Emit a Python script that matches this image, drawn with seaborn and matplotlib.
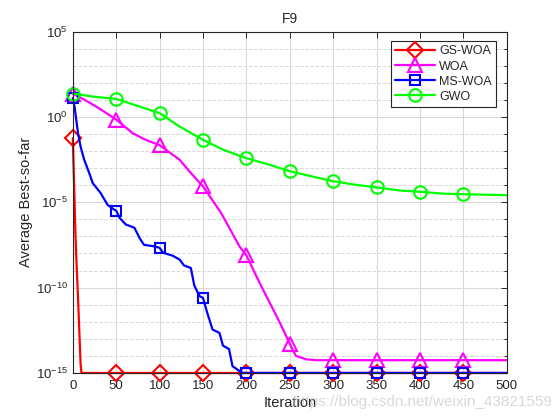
import numpy as np
import pandas as pd
import seaborn as sns
import matplotlib
matplotlib.use("Agg")
import matplotlib.pyplot as plt
from matplotlib.lines import Line2D
from matplotlib.ticker import FixedLocator, NullFormatter

# ---------------- data ----------------
title = "F9"
xlabel = "Iteration"
ylabel = "Average Best-so-far"
series_names = ["GS-WOA", "WOA", "MS-WOA", "GWO"]

gs_iter = [0, 1, 2, 3, 4, 5, 6, 7, 8, 9, 10, 50, 100, 150, 200, 250, 300, 350, 400, 450, 500]
gs_val = [5.6e-2, 8e-4, 1.3e-5, 1.6e-7, 6.3e-9, 4e-10, 2.5e-11, 1.3e-12, 6.3e-14, 3.2e-15, 1e-15,
          1e-15, 1e-15, 1e-15, 1e-15, 1e-15, 1e-15, 1e-15, 1e-15, 1e-15, 1e-15]

woa_iter = [0, 10, 27, 50, 69, 84, 100, 123, 136, 150, 171, 192, 200, 215, 238, 246, 250, 257,
            269, 280, 300, 350, 400, 450, 500]
woa_val = [22, 12.6, 4.0, 0.7, 0.11, 4.5e-2, 2.2e-2, 3.1e-3, 5.1e-4, 8.5e-5, 2.3e-6, 2.6e-8,
           7.6e-9, 2e-10, 1e-12, 1.4e-13, 5e-14, 1e-14, 6.3e-15, 5.6e-15, 5.6e-15, 5.6e-15,
           5.6e-15, 5.6e-15, 5.6e-15]

ms_iter = [0, 2, 4, 6, 9, 13, 19, 23, 32, 40, 48, 50, 54, 61, 71, 77, 82, 96, 100, 104, 115,
           123, 128, 136, 140, 146, 150, 155, 161, 169, 173, 180, 184, 192, 196, 200, 250, 300,
           350, 400, 450, 500]
ms_val = [12.6, 4.0, 0.66, 0.11, 1.8e-2, 3.2e-3, 5e-4, 1.3e-4, 3.5e-5, 7.1e-6, 3.6e-6, 3.2e-6,
          1.2e-6, 5e-7, 3.2e-7, 7.9e-8, 3.2e-8, 2.5e-8, 2.1e-8, 1.1e-8, 7.4e-9, 4.4e-9, 2e-9,
          1.4e-9, 1.3e-10, 3.2e-11, 2.5e-11, 3.2e-12, 3.5e-13, 2.2e-13, 4e-14, 2.5e-14, 2.5e-15,
          1.3e-15, 1e-15, 1e-15, 1e-15, 1e-15, 1e-15, 1e-15, 1e-15, 1e-15]

gwo_iter = [0, 23, 50, 77, 100, 123, 150, 173, 200, 226, 250, 276, 300, 326, 350, 376, 400,
            426, 450, 500]
gwo_val = [23, 15.5, 11.2, 4.0, 1.66, 0.27, 4.5e-2, 1.2e-2, 3.8e-3, 1.6e-3, 6.6e-4, 3.2e-4,
           1.7e-4, 1.05e-4, 7.4e-5, 4.9e-5, 4.1e-5, 3.2e-5, 2.95e-5, 2.6e-5]

marker_iters = [0, 50, 100, 150, 200, 250, 300, 350, 400, 450]
xticks = [0, 50, 100, 150, 200, 250, 300, 350, 400, 450, 500]
yticks = [1e-15, 1e-10, 1e-5, 1e0, 1e5]

# ---------------- style ----------------
sns.set_theme(style="white")
plt.rcParams["font.family"] = ["Liberation Sans", "DejaVu Sans"]
plt.rcParams["mathtext.default"] = "regular"

colors = ["#ff0000", "#ff00ff", "#0000ff", "#00ff00"]
markers = ["D", "^", "s", "o"]
msizes = [8, 9.5, 6.5, 9]

fig = plt.figure(figsize=(5.6, 4.2), dpi=100)
ax = fig.add_axes([0.13, 0.112, 0.775, 0.813])

datasets = [(gs_iter, gs_val), (woa_iter, woa_val), (ms_iter, ms_val), (gwo_iter, gwo_val)]
handles = []
for name, (xs, ys), c, m, ms in zip(series_names, datasets, colors, markers, msizes):
    df = pd.DataFrame({"Iteration": xs, "value": ys})
    idx = [i for i, v in enumerate(xs) if v in marker_iters]
    sns.lineplot(data=df, x="Iteration", y="value", ax=ax, color=c, linewidth=1.6,
                 marker=m, markersize=ms, markevery=idx, markerfacecolor="none",
                 markeredgecolor=c, markeredgewidth=1.5, estimator=None, sort=False,
                 legend=False, clip_on=False)
    handles.append(Line2D([0], [0], color=c, linewidth=1.6, marker=m, markersize=ms,
                          markerfacecolor="none", markeredgecolor=c, markeredgewidth=1.5,
                          label=name))

ax.set_yscale("log")
ax.set_xlim(0, 500)
ax.set_ylim(1e-15, 1e5)
ax.xaxis.set_major_locator(FixedLocator(xticks))
ax.yaxis.set_major_locator(FixedLocator(yticks))
ax.yaxis.set_minor_locator(FixedLocator([10.0 ** k for k in range(-15, 6)]))
ax.yaxis.set_minor_formatter(NullFormatter())

ax.grid(True, which="major", color="#d9d9d9", linestyle="-", linewidth=0.8)
ax.grid(True, which="minor", axis="y", color="#d9d9d9", linestyle="--", linewidth=0.7)
ax.set_axisbelow(True)

for sp in ax.spines.values():
    sp.set_color("#262626")
    sp.set_linewidth(0.8)
    sp.set_visible(True)

ax.tick_params(which="both", direction="in", top=True, right=True, colors="#262626",
               labelsize=9.5, width=0.7)
ax.tick_params(which="major", length=4)
ax.tick_params(which="minor", length=2.5)
ax.tick_params(axis="x", which="minor", bottom=False, top=False)
ax.tick_params(axis="x", which="major", pad=5)

ax.set_title(title, fontsize=10, color="#262626", pad=6)
ax.set_xlabel(xlabel, fontsize=10.5, color="#262626", labelpad=3)
ax.set_ylabel(ylabel, fontsize=10.5, color="#262626", labelpad=2)

leg = ax.legend(handles=handles, loc="upper right", bbox_to_anchor=(0.975, 0.972),
                fontsize=9, frameon=True, fancybox=False, framealpha=1, edgecolor="#262626",
                handlelength=3.2, handletextpad=0.3, borderpad=0.35, labelspacing=0.25,
                borderaxespad=0.0, numpoints=1)
leg.get_frame().set_linewidth(0.8)

fig.text(0.985, 0.043, "https://blog.csdn.net/weixin_43821559", ha="right", va="center",
         fontsize=11, color="#bfbfbf", alpha=0.6)

fig.savefig("out.png", dpi=100, facecolor="white")
